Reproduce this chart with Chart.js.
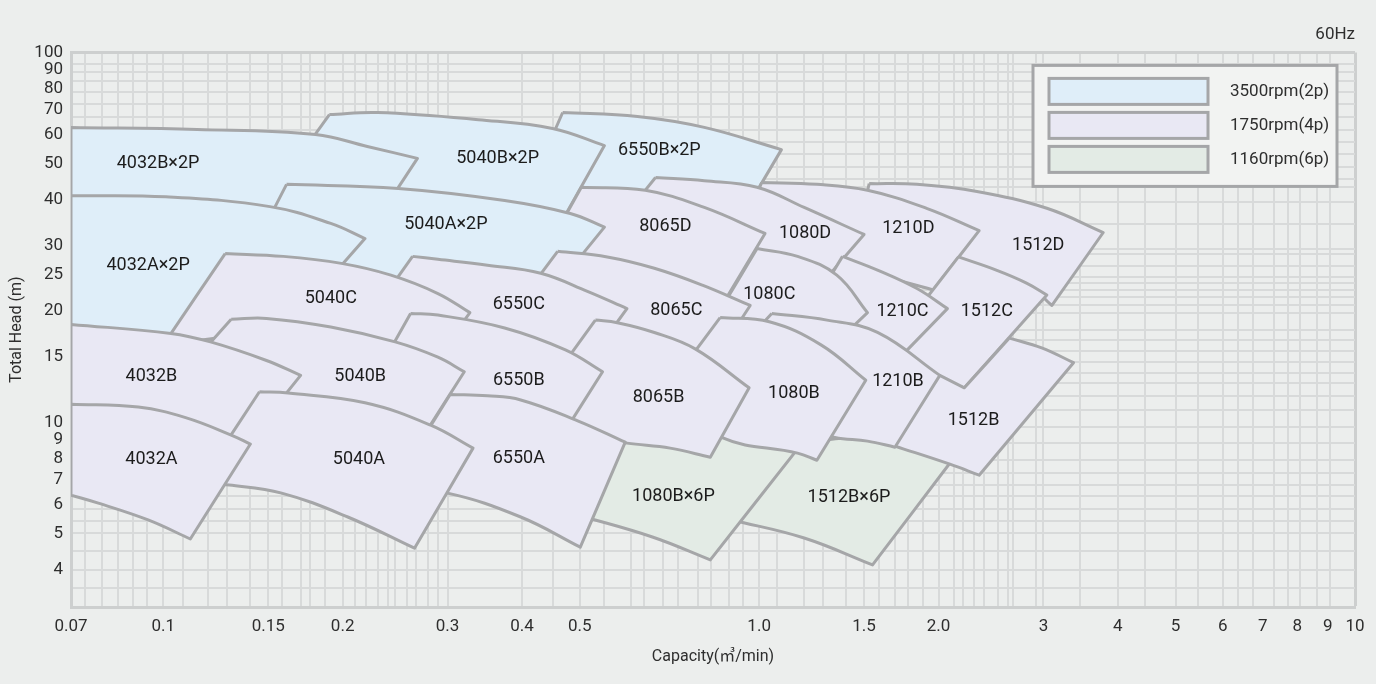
<!DOCTYPE html>
<html>
<head>
<meta charset="utf-8">
<title>Pump selection chart 60Hz</title>
<script src="https://cdn.jsdelivr.net/npm/chart.js@4.4.1/dist/chart.umd.min.js"></script>
<style>
  html, body { margin: 0; padding: 0; background: #eceeed; }
  #wrap { width: 1376px; height: 684px; position: relative; }
</style>
</head>
<body>
<div id="wrap"><canvas id="chart"></canvas></div>
<script>
// axis ticks (capacity m3/min, total head m)
const xLabelValues = [0.07, 0.1, 0.15, 0.2, 0.3, 0.4, 0.5, 1.0, 1.5, 2.0, 3, 4, 5, 6, 7, 8, 9, 10];
const xLabelTexts = ['0.07', '0.1', '0.15', '0.2', '0.3', '0.4', '0.5', '1.0', '1.5', '2.0', '3', '4', '5', '6', '7', '8', '9', '10'];
const xGridValues = [0.074, 0.079, 0.084, 0.089, 0.094, 0.1, 0.108, 0.119, 0.128, 0.14, 0.15, 0.158, 0.17, 0.176, 0.187,
  0.2, 0.21, 0.219, 0.229, 0.238, 0.245, 0.256, 0.266, 0.278, 0.289, 0.3, 0.4, 0.45, 0.5, 0.55, 0.61, 0.64, 0.69, 0.73,
  0.79, 0.83, 0.89, 0.94, 1.0, 1.07, 1.19, 1.28, 1.4, 1.5, 1.59, 1.69, 1.78, 1.88, 2.0, 2.12, 2.2, 2.29, 2.38, 2.52,
  2.62, 2.67, 2.92, 3.0, 3.46, 4.0, 4.45, 5.0, 5.46, 6.0, 6.37, 6.75, 7.31, 7.72, 8.09, 8.64, 9.08, 10];
const yLabelValues = [4, 5, 6, 7, 8, 9, 10, 15, 20, 25, 30, 40, 50, 60, 70, 80, 90, 100];
const yGridValues = [3.57, 3.99, 4.49, 5.02, 5.41, 5.83, 6.32, 6.77, 7.29, 7.91, 8.8, 9.72, 10.8, 11.8, 12.8, 13.6, 14.6,
  15.6, 16.7, 17.8, 19.8, 20.7, 21.8, 22.8, 23.8, 24.7, 26.4, 28.5, 29.5, 34.3, 39.3, 43.2, 45.5, 48.9, 53.0, 57.2,
  61.7, 67.1, 72.6, 78.0, 83.9, 88.3, 93.0, 100];

// motor speeds
const speedKeys = ['2p', '4p', '6p'];
const speedLabels = ['3500rpm(2p)', '1750rpm(4p)', '1160rpm(6p)'];
const speedColors = ['#dfeef9', '#e9e8f4', '#e3ebe5'];

// pump ranges, listed in drawing order (first one is drawn underneath)
const tileNames = ['1512B×6P', '1080B×6P', '6550B×2P', '5040B×2P', '4032B×2P', '1512D', '1210D', '1080D', '8065D',
  '5040A×2P', '4032A×2P', '1512C', '1210C', '1080C', '8065C', '6550C', '5040C', '1512B', '1210B', '1080B', '8065B',
  '6550B', '5040B', '4032B', '6550A', '5040A', '4032A'];
const tileSpeed = ['6p', '6p', '2p', '2p', '2p', '4p', '4p', '4p', '4p', '2p', '2p', '4p', '4p', '4p', '4p', '4p',
  '4p', '4p', '4p', '4p', '4p', '4p', '4p', '4p', '4p', '4p', '4p'];

// upper curve, left to right: [Q, H]
const tileTop = [
  [[1.11, 8.7], [1.58, 9.07], [2.12, 8.0]],
  [[0.536, 8.96], [0.788, 9.41], [1.17, 8.63]],
  [[0.468, 68.8], [0.625, 67.1], [0.809, 62.7], [1.09, 54.6]],
  [[0.19, 67.9], [0.229, 68.8], [0.338, 65.8], [0.45, 62.3], [0.55, 56.0]],
  [[0.07, 62.7], [0.114, 61.9], [0.18, 60], [0.22, 55.7], [0.267, 51.7]],
  [[1.53, 44.2], [1.84, 44.0], [2.32, 42.1], [3.04, 37.9], [3.78, 32.6]],
  [[1.01, 44.5], [1.25, 44.0], [1.52, 42.4], [1.91, 37.9], [2.34, 33.0]],
  [[0.67, 45.9], [0.809, 45.0], [0.992, 43.2], [1.19, 38.1], [1.5, 32.2]],
  [[0.503, 43.2], [0.644, 42.4], [0.809, 38.1], [1.023, 32.4]],
  [[0.161, 44.0], [0.248, 42.9], [0.374, 39.8], [0.482, 36.7], [0.55, 33.7]],
  [[0.07, 41.0], [0.101, 40.7], [0.151, 38.3], [0.191, 34.5], [0.218, 31.4]],
  [[2.16, 28.0], [2.5, 25.8], [2.81, 23.8], [3.04, 22.1]],
  [[1.38, 28.1], [1.58, 25.8], [1.84, 23.0], [2.07, 20.3]],
  [[0.992, 29.5], [1.16, 28.1], [1.35, 25.0], [1.52, 19.8]],
  [[0.459, 29.0], [0.556, 28.0], [0.667, 26.1], [0.803, 23.5], [0.966, 20.7]],
  [[0.262, 28.1], [0.289, 27.6], [0.35, 26.6], [0.43, 25.3], [0.515, 22.6], [0.6, 20.3]],
  [[0.127, 28.6], [0.159, 28.1], [0.199, 26.9], [0.241, 25.0], [0.289, 22.3], [0.327, 19.8]],
  [[2.63, 16.9], [2.98, 15.9], [3.37, 14.5]],
  [[1.05, 19.7], [1.3, 18.9], [1.58, 17.5], [2.01, 13.4]],
  [[0.86, 19.2], [1.04, 18.7], [1.27, 16.2], [1.51, 13.0]],
  [[0.531, 18.9], [0.578, 18.6], [0.667, 17.5], [0.781, 15.8], [0.962, 12.4]],
  [[0.26, 19.7], [0.289, 19.5], [0.374, 18.0], [0.473, 15.7], [0.546, 13.7]],
  [[0.13, 19.0], [0.149, 19.1], [0.191, 18.1], [0.245, 16.5], [0.289, 15.0], [0.32, 13.7]],
  [[0.07, 18.4], [0.103, 17.4], [0.12, 16.5], [0.149, 14.7], [0.17, 13.4]],
  [[0.303, 11.9], [0.35, 11.8], [0.398, 11.5], [0.496, 10.1], [0.596, 8.84]],
  [[0.145, 12.1], [0.162, 12.0], [0.218, 11.3], [0.281, 9.83], [0.331, 8.52]],
  [[0.07, 11.2], [0.0908, 11.0], [0.109, 10.3], [0.13, 9.24], [0.14, 8.74]]
];

// lower curve, right to left: [Q, H]
const tileBottom = [
  [[1.55, 4.12], [1.19, 4.87], [0.90, 5.45]],
  [[0.828, 4.25], [0.662, 4.90], [0.496, 5.62]],
  [[0.944, 36.9], [0.675, 39.3], [0.409, 41.9]],
  [[0.448, 31.1], [0.289, 39.8], [0.154, 42.4]],
  [[0.231, 36.3], [0.15, 37.4], [0.07, 39.8]],
  [[3.10, 20.7], [2.81, 23.5], [2.15, 25.5], [1.46, 32.0]],
  [[1.96, 22.8], [1.46, 26.1], [0.937, 33.4]],
  [[1.31, 25.0], [1.01, 27.8], [0.788, 33.4], [0.596, 36.3]],
  [[0.877, 21.4], [0.65, 23.9], [0.428, 27.1]],
  [[0.473, 25.0], [0.364, 23.5], [0.248, 22.8], [0.168, 25.0], [0.147, 33.0]],
  [[0.177, 21.4], [0.114, 17.5], [0.07, 17.5]],
  [[2.21, 12.4], [1.91, 13.4], [1.70, 16.2], [1.85, 20.3]],
  [[1.64, 13.8], [1.40, 14.7], [1.16, 17.7]],
  [[1.36, 16.7], [1.07, 17.5], [0.86, 20.1]],
  [[0.841, 14.7], [0.788, 14.3], [0.675, 16.2], [0.536, 17.7], [0.399, 21.4]],
  [[0.542, 16.2], [0.459, 14.7], [0.338, 17.2], [0.226, 20.1]],
  [[0.267, 12.6], [0.204, 16.2], [0.144, 17.2], [0.10, 16.2]],
  [[2.34, 7.2], [2.09, 7.71], [1.69, 8.63]],
  [[1.69, 8.57], [1.52, 8.9], [1.34, 9.1], [1.11, 9.83]],
  [[1.25, 7.9], [1.16, 8.26], [0.867, 9.1], [0.729, 11.5], [0.76, 14.7]],
  [[0.828, 8.05], [0.709, 8.52], [0.6, 8.79], [0.496, 9.24], [0.401, 10.1]],
  [[0.462, 8.96], [0.364, 11.1], [0.289, 11.5], [0.225, 13.0]],
  [[0.264, 8.42], [0.204, 10.8], [0.145, 11.5], [0.0985, 11.5]],
  [[0.137, 8.68], [0.114, 9.53], [0.0908, 10.5], [0.07, 10.7]],
  [[0.501, 4.6], [0.398, 5.55], [0.30, 6.44], [0.242, 6.64]],
  [[0.264, 4.57], [0.204, 5.55], [0.158, 6.44], [0.129, 6.77], [0.115, 6.86]],
  [[0.111, 4.84], [0.0943, 5.45], [0.0778, 6.05], [0.07, 6.36]]
];

// extra corners on the left side of a few ranges
const tileExtra = [[], [], [], [], [], [], [], [], [], [], [], [], [], [], [], [], [],
  [[1.61, 9.53], [2.01, 13.4], [2.21, 12.4]],
  [[0.955, 16.7]],
  [], [], [], [], [], [], [], []];

// model name positions
const labelQ = [1.415, 0.718, 0.68, 0.364, 0.098, 2.94, 1.78, 1.194, 0.696, 0.298, 0.0943, 2.41, 1.74, 1.04, 0.726,
  0.395, 0.191, 2.29, 1.71, 1.144, 0.678, 0.395, 0.214, 0.0955, 0.395, 0.213, 0.0955];
const labelH = [6.28, 6.32, 54.3, 51.7, 50.1, 30.1, 33.4, 32.4, 33.9, 34.3, 26.6, 20.0, 20.0, 22.2, 20.1, 20.8, 21.6,
  10.1, 12.9, 12.0, 11.7, 13.0, 13.3, 13.3, 8.0, 7.95, 7.95];

const gridColor = '#d8dada';
const edgeColor = '#cdcfcf';
const outlineColor = '#a5a6a8';
const textColor = '#2e2e2e';

Chart.defaults.font.family = 'Roboto, "Noto Sans CJK KR", sans-serif';

// corners are doubled so the spline keeps the side edges straight
function pt(p) { return {x: p[0], y: p[1]}; }
function outline(top, bottom, extra) {
  const pts = [pt(top[0])];
  top.forEach(p => pts.push(pt(p)));
  pts.push(pt(top[top.length - 1]));
  pts.push(pt(bottom[0]));
  bottom.forEach(p => pts.push(pt(p)));
  pts.push(pt(bottom[bottom.length - 1]));
  extra.forEach(p => { pts.push(pt(p)); pts.push(pt(p)); });
  pts.push(pt(top[0]));
  return pts;
}

const datasets = tileNames.map((name, i) => ({
  label: name,
  data: outline(tileTop[i], tileBottom[i], tileExtra[i]),
  backgroundColor: speedColors[speedKeys.indexOf(tileSpeed[i])],
  borderColor: outlineColor,
  borderWidth: 3,
  borderJoinStyle: 'round',
  fill: 'shape',
  tension: 0.4,
  pointRadius: 0,
  pointHoverRadius: 0,
  pointHitRadius: 0,
  order: tileNames.length - i
}));

const xTicks = Array.from(new Set([...xGridValues, ...xLabelValues])).sort((a, b) => a - b);
const yTicks = Array.from(new Set([...yGridValues, ...yLabelValues])).sort((a, b) => a - b);

const tileLabels = {
  id: 'tileLabels',
  afterDatasetsDraw(chart) {
    const {ctx, scales: {x, y}} = chart;
    ctx.save();
    ctx.font = '18px Roboto, sans-serif';
    ctx.fillStyle = '#1c1c1c';
    ctx.textAlign = 'center';
    ctx.textBaseline = 'middle';
    tileNames.forEach((name, i) => {
      ctx.fillText(name, x.getPixelForValue(labelQ[i]), y.getPixelForValue(labelH[i]));
    });
    ctx.restore();
  }
};

// rpm key, boxed in the top right corner of the plot
const speedLegend = {
  id: 'speedLegend',
  afterDraw(chart) {
    const {ctx, chartArea} = chart;
    const w = 304, h = 121;
    const left = chartArea.right - 18 - w;
    const top = chartArea.top + 13;
    ctx.save();
    ctx.fillStyle = '#f2f3f2';
    ctx.fillRect(left, top, w, h);
    ctx.strokeStyle = outlineColor;
    ctx.lineWidth = 3;
    ctx.strokeRect(left, top, w, h);
    ctx.font = '17px Roboto, sans-serif';
    ctx.textAlign = 'left';
    ctx.textBaseline = 'middle';
    speedLabels.forEach((lab, i) => {
      const sy = top + 13 + i * 34;
      ctx.fillStyle = speedColors[i];
      ctx.fillRect(left + 16, sy, 159, 26);
      ctx.strokeRect(left + 16, sy, 159, 26);
      ctx.fillStyle = textColor;
      ctx.fillText(lab, left + 197, sy + 13);
    });
    ctx.restore();
  }
};

new Chart(document.getElementById('chart'), {
  type: 'line',
  data: { datasets: datasets },
  options: {
    responsive: true,
    maintainAspectRatio: false,
    animation: false,
    layout: { padding: { left: 0, right: 21, top: 0, bottom: 0 } },
    plugins: {
      legend: { display: false },
      tooltip: { enabled: false },
      title: {
        display: true,
        text: '60Hz',
        align: 'end',
        color: textColor,
        font: { size: 17, weight: 'normal' },
        padding: { top: 25, bottom: 7 }
      }
    },
    scales: {
      x: {
        type: 'logarithmic',
        min: 0.07,
        max: 10,
        afterBuildTicks: s => { s.ticks = xTicks.map(v => ({ value: v })); },
        afterFit: s => { s.height = 77; },
        grid: {
          drawTicks: false,
          color: c => xGridValues.includes(c.tick.value) ? (c.tick.value === 10 ? edgeColor : gridColor) : 'rgba(0,0,0,0)',
          lineWidth: c => c.tick.value === 10 ? 3 : 2
        },
        border: { display: true, color: edgeColor, width: 3 },
        ticks: {
          autoSkip: false,
          maxRotation: 0,
          minRotation: 0,
          padding: 10,
          color: textColor,
          font: { size: 17 },
          callback: v => { const k = xLabelValues.indexOf(v); return k >= 0 ? xLabelTexts[k] : ''; }
        },
        title: {
          display: true,
          text: 'Capacity(㎥/min)',
          color: textColor,
          font: { size: 16, weight: 'normal' },
          padding: { top: 0, bottom: 17 }
        }
      },
      y: {
        type: 'logarithmic',
        min: 3.17,
        max: 100,
        afterBuildTicks: s => { s.ticks = yTicks.map(v => ({ value: v })); },
        afterFit: s => { s.width = 71; },
        grid: {
          drawTicks: false,
          color: c => yGridValues.includes(c.tick.value) ? (c.tick.value === 100 ? edgeColor : gridColor) : 'rgba(0,0,0,0)',
          lineWidth: c => c.tick.value === 100 ? 3 : 2
        },
        border: { display: true, color: edgeColor, width: 3 },
        ticks: {
          autoSkip: false,
          padding: 8,
          color: textColor,
          font: { size: 17 },
          callback: v => yLabelValues.includes(v) ? String(v) : ''
        },
        title: {
          display: true,
          text: 'Total Head (m)',
          color: textColor,
          font: { size: 16, weight: 'normal' },
          padding: { top: 7, bottom: 0 }
        }
      }
    }
  },
  plugins: [tileLabels, speedLegend]
});
</script>
</body>
</html>
